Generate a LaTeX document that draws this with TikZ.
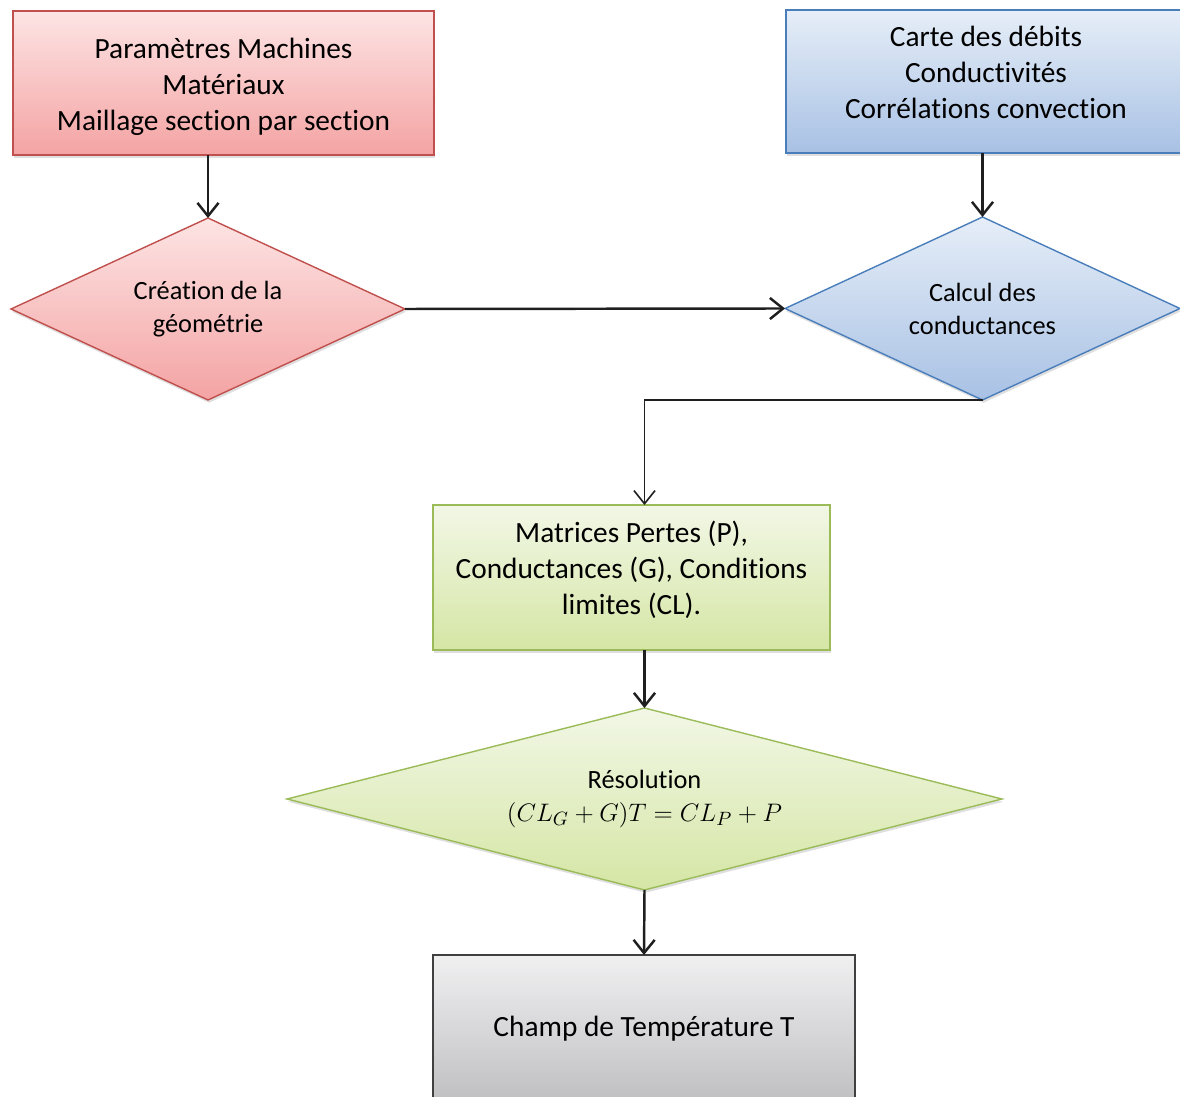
\documentclass[tikz,border=0pt]{standalone}
\usepackage{fontspec}
\setmainfont{Carlito}[Ligatures=NoCommon]
\usepackage{amsmath}
\usetikzlibrary{arrows.meta,positioning,shapes.geometric,shadows}

\definecolor{redtop}{HTML}{FDE4E4}
\definecolor{redbot}{HTML}{F4A3A3}
\definecolor{redline}{HTML}{C0504D}
\definecolor{bluetop}{HTML}{E6EEF8}
\definecolor{bluebot}{HTML}{A8C1E4}
\definecolor{blueline}{HTML}{4A7EBB}
\definecolor{greentop}{HTML}{F2F7E6}
\definecolor{greenbot}{HTML}{D5E6A5}
\definecolor{greenline}{HTML}{9BBB59}
\definecolor{graytop}{HTML}{F0F0F1}
\definecolor{graybot}{HTML}{BFBFC2}
\definecolor{grayline}{HTML}{404040}

% texte decale verticalement dans une boite
\newcommand{\liftup}[2]{\raisebox{#1}[\height][\depth]{\begin{tabular}{@{}c@{}}#2\end{tabular}}}

\begin{document}
\begin{tikzpicture}[x=0.02cm,y=-0.02cm,
    box/.style={rectangle, draw, line width=0.8pt, outer sep=0pt, align=center,
        font=\fontsize{16.7}{20.5}\selectfont,
        drop shadow={shadow xshift=0.6pt, shadow yshift=-1.6pt, opacity=0.25}},
    choice/.style={diamond, draw, line width=0.8pt, outer sep=0pt, inner sep=0pt,
        align=center, font=\fontsize{15}{18.8}\selectfont,
        drop shadow={shadow xshift=0.6pt, shadow yshift=-1.6pt, opacity=0.25}},
    redfill/.style={draw=redline, top color=redtop, bottom color=redbot},
    bluefill/.style={draw=blueline, top color=bluetop, bottom color=bluebot},
    greenfill/.style={draw=greenline, top color=greentop, bottom color=greenbot},
    grayfill/.style={draw=grayline, top color=graytop, bottom color=graybot},
    link/.style={-{Straight Barb[length=7.5pt,width=12pt]}, line width=1.4pt, draw=black!88}]
\useasboundingbox (0,0) rectangle (1180,1097);

% entrees
\node[box, redfill, minimum width=8.42cm, minimum height=2.88cm] (param) at (223.5,83)
    {\liftup{-2.3pt}{Paramètres Machines\\Matériaux\\Maillage section par section}};
\node[box, bluefill, minimum width=8cm, minimum height=2.86cm] (debits) at (986,81.5)
    {\liftup{3.4pt}{Carte des débits\\Conductivités\\Corrélations convection}};

% etapes
\node[choice, redfill, shape aspect=2.2, minimum width=7.88cm, minimum height=3.64cm] (geom) at (208,309)
    {Création de la\\géométrie};
\node[choice, bluefill, shape aspect=2.2, minimum width=7.9cm, minimum height=3.66cm] (calc) at (982.5,308.5)
    {Calcul des\\conductances};
\node[box, greenfill, minimum width=7.94cm, minimum height=2.9cm] (matr) at (631.5,577.5)
    {\liftup{3.4pt}{Matrices Pertes (P),\\Conductances (G), Conditions\\limites (CL).}};
\node[choice, greenfill, shape aspect=3.9, minimum width=14.3cm, minimum height=3.64cm] (resol) at (644.5,799)
    {Résolution\\$(CL_G+G)T=CL_P+P$};
\node[box, grayfill, minimum width=8.44cm, minimum height=2.96cm] (champ) at (644,1029)
    {Champ de Température T};

% liaisons
\draw[link] (param.south -| geom.north) -- (geom.north);
\draw[link] (debits.south -| calc.north) -- (calc.north);
\draw[link] (geom.east) -- (calc.west);
\draw[link, line width=0.9pt] (calc.south) -| (matr.north -| resol.north);
\draw[link] (matr.south -| resol.north) -- (resol.north);
\draw[link] (resol.south) -- (champ.north);
\end{tikzpicture}
\end{document}
